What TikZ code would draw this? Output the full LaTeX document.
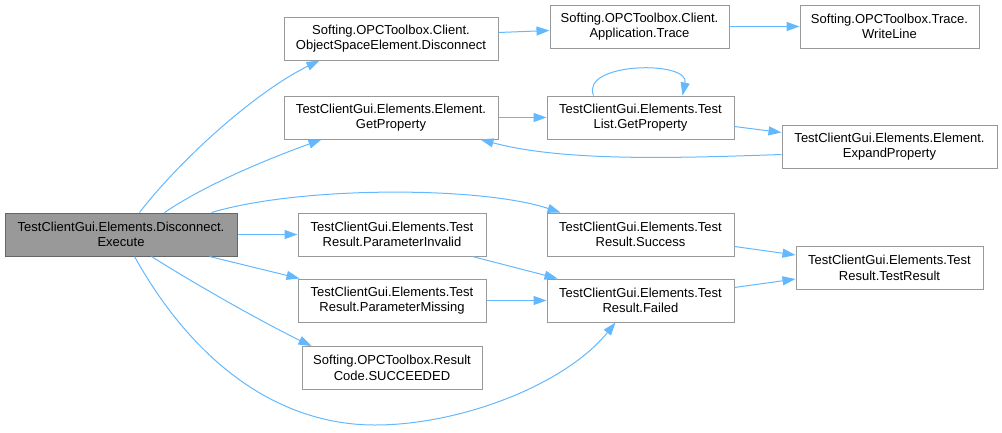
\documentclass[tikz,border=0pt]{standalone}
\usepackage{fontspec}
\setmainfont{Liberation Sans}
\usetikzlibrary{arrows.meta,calc}
\definecolor{edgeblue}{HTML}{63B8FF}
\definecolor{boxline}{HTML}{999999}
\definecolor{mainfill}{HTML}{999999}
\definecolor{mainline}{HTML}{666666}
\tikzset{
  box/.style={draw=boxline, fill=white, line width=1pt, minimum height=43pt,
    inner sep=2pt, align=center, font=\fontsize{13}{15.5}\selectfont, text=black},
  mainbox/.style={box, fill=mainfill, draw=mainline},
  edge/.style={draw=edgeblue, line width=1pt, -{Triangle[length=13pt,width=9pt]}}
}
\begin{document}
\begin{tikzpicture}[x=1pt,y=-1pt]
\useasboundingbox (0,0) rectangle (1002,432);
\node[mainbox, minimum width=232pt] (exec) at (121,234.5) {TestClientGui.Elements.Disconnect.\\Execute};
\node[box, minimum width=214pt] (osed) at (391,38.5) {Softing.OPCToolbox.Client.\\ObjectSpaceElement.Disconnect};
\node[box, minimum width=179pt] (trace) at (639.5,26.5) {Softing.OPCToolbox.Client.\\Application.Trace};
\node[box, minimum width=179pt] (wline) at (889.5,26.5) {Softing.OPCToolbox.Trace.\\WriteLine};
\node[box, minimum width=214pt] (egp) at (391,117.5) {TestClientGui.Elements.Element.\\GetProperty};
\node[box, minimum width=187pt] (tlgp) at (640.5,117.5) {TestClientGui.Elements.Test\\List.GetProperty};
\node[box, minimum width=215pt] (expand) at (889.5,146.5) {TestClientGui.Elements.Element.\\ExpandProperty};
\node[box, minimum width=187pt] (success) at (640.5,234.5) {TestClientGui.Elements.Test\\Result.Success};
\node[box, minimum width=188pt] (pinv) at (392,234.5) {TestClientGui.Elements.Test\\Result.ParameterInvalid};
\node[box, minimum width=188pt] (pmiss) at (392,300.5) {TestClientGui.Elements.Test\\Result.ParameterMissing};
\node[box, minimum width=187pt] (failed) at (640.5,300.5) {TestClientGui.Elements.Test\\Result.Failed};
\node[box, minimum width=187pt] (tres) at (889.5,268) {TestClientGui.Elements.Test\\Result.TestResult};
\node[box, minimum width=180pt] (succ) at (392,368) {Softing.OPCToolbox.Result\\Code.SUCCEEDED};

% edges from Execute
\draw[edge] ($(exec.north west)+(135,0)$) .. controls (180,160) and (255,92) .. ($(osed.south west)+(36,0)$);
\draw[edge] ($(exec.north west)+(160,0)$) .. controls (205,185) and (265,160) .. ($(egp.south west)+(38,0)$);
\draw[edge] ($(exec.north west)+(207,0)$) .. controls (300,186) and (480,186) .. ($(success.north west)+(14,0)$);
\draw[edge] (exec.east) -- (pinv.west);
\draw[edge] ($(exec.south west)+(205,0)$) -- ($(pmiss.north west)+(2,0)$);
\draw[edge] ($(exec.south west)+(147,0)$) .. controls (195,284) and (262,322) .. ($(succ.north west)+(10,0)$);
\draw[edge] ($(exec.south west)+(130,0)$) .. controls (195,365) and (280,425) .. (375,425)
  .. controls (460,425) and (565,385) .. ($(failed.south west)+(69,0)$);

% other edges
\draw[edge] ($(osed.north east)+(0,16)$) -- ($(trace.north west)+(0,26)$);
\draw[edge] (trace.east) -- (wline.west);
\draw[edge] (egp.east) -- (tlgp.west);
\draw[edge] ($(tlgp.north west)+(47,0)$) .. controls (580,62) and (690,60) .. ($(tlgp.north west)+(136,0)$);
\draw[edge] ($(tlgp.north east)+(0,31)$) -- ($(expand.north west)+(0,8)$);
\draw[edge] ($(expand.north west)+(0,30)$) .. controls (680,158) and (565,162) .. ($(egp.south east)+(-18,0)$);
\draw[edge] ($(pinv.south west)+(175,0)$) -- ($(failed.north west)+(11,0)$);
\draw[edge] (pmiss.east) -- (failed.west);
\draw[edge] ($(success.north east)+(0,34)$) -- ($(tres.north west)+(0,9)$);
\draw[edge] ($(failed.north east)+(0,9)$) -- ($(tres.north west)+(0,33)$);
\end{tikzpicture}
\end{document}
